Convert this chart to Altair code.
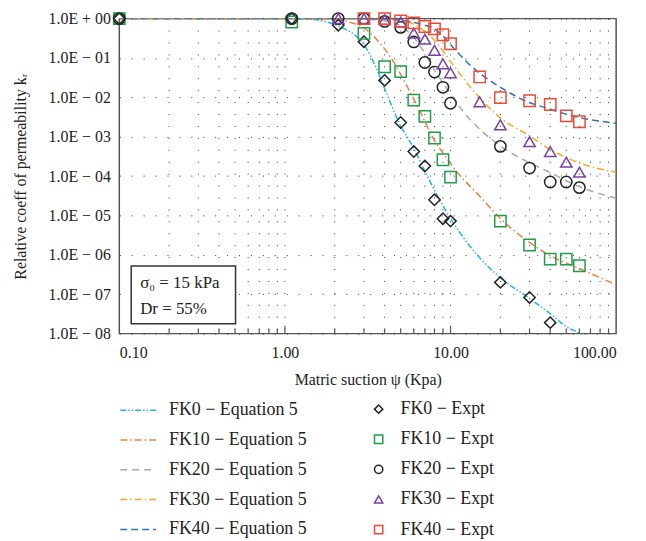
import altair as alt
import pandas as pd

# ---------------- data ----------------
line_labels = ["FK0 − Equation 5", "FK10 − Equation 5", "FK20 − Equation 5",
               "FK30 − Equation 5", "FK40 − Equation 5"]
point_labels = ["FK0 − Expt", "FK10 − Expt", "FK20 − Expt", "FK30 − Expt", "FK40 − Expt"]

fk0_eq_x = [0.1, 1.0, 1.42, 1.79, 2.21, 2.65, 3.0, 3.5, 4.1, 4.93, 5.95, 6.97, 8.2, 9.85, 12.7, 19.6, 29.8, 39.3, 51.4, 59.3, 70]
fk0_eq_y = [1, 1, 0.96, 0.82, 0.59, 0.38, 0.22, 0.065, 0.013, 0.0021, 0.00054, 0.00014, 3.6e-5, 9.3e-6, 1.96e-6, 2.8e-7, 8e-8, 3.4e-8, 1.4e-8, 1.05e-8, 6e-9]

fk10_eq_x = [0.1, 1.0, 1.8, 2.71, 3.57, 4.5, 5.4, 6.5, 7.8, 9.4, 10.9, 14.9, 19.6, 29.8, 39.3, 59.3, 100]
fk10_eq_y = [1, 1, 0.96, 0.72, 0.30, 0.083, 0.021, 0.0047, 0.00096, 0.0003, 0.00013, 3.2e-5, 9.2e-6, 2.1e-6, 9.9e-7, 4.6e-7, 1.75e-7]

fk20_eq_x = [0.1, 1.0, 2.1, 3.0, 4.0, 5.0, 6.0, 7.0, 8.0, 9.4, 10, 11.8, 14.9, 19.8, 29.8, 39.5, 59.3, 100]
fk20_eq_y = [1, 1, 1, 0.97, 0.88, 0.65, 0.33, 0.13, 0.05, 0.0177, 0.012, 0.0046, 0.0016, 0.0006, 0.00022, 0.000126, 5.5e-5, 2.75e-5]

fk30_eq_x = [0.1, 1.0, 2.1, 3.0, 4.0, 5.0, 6.0, 7.0, 8.0, 9.0, 10.3, 14.9, 19.8, 29.8, 39.5, 59.3, 100]
fk30_eq_y = [1, 1, 1, 1, 0.97, 0.9, 0.72, 0.47, 0.28, 0.15, 0.069, 0.01, 0.0031, 0.00107, 0.00049, 0.00022, 0.000125]

fk40_eq_x = [0.1, 1.0, 2.1, 3.0, 4.0, 5.0, 6.0, 7.0, 7.8, 9.0, 10, 12.4, 14.9, 18.7, 23.6, 29.8, 37.4, 47.2, 59.3, 74.6, 100]
fk40_eq_y = [1, 1, 1, 1, 0.98, 0.9, 0.8, 0.68, 0.58, 0.36, 0.22, 0.083, 0.042, 0.0215, 0.012, 0.0074, 0.0055, 0.004, 0.0031, 0.0026, 0.0022]

fk0_ex_x = [0.1, 1.1, 2.1, 3, 4, 5, 6, 7, 8, 9, 10, 20, 30, 40]
fk0_ex_y = [1, 1, 0.68, 0.26, 0.027, 0.0023, 0.00042, 0.00018, 2.5e-5, 8.3e-6, 7.2e-6, 2.0e-7, 8.3e-8, 1.9e-8]

fk10_ex_x = [0.1, 1.1, 3, 4, 5, 6, 7, 8, 9, 10, 20, 30, 40, 50, 60]
fk10_ex_y = [1, 0.82, 0.42, 0.06, 0.045, 0.0085, 0.0033, 0.00093, 0.00026, 9.4e-5, 7.2e-6, 1.78e-6, 7.8e-7, 7.8e-7, 5.3e-7]

fk20_ex_x = [0.1, 1.1, 2.1, 3, 4, 5, 6, 7, 8, 9, 10, 20, 30, 40, 50, 60]
fk20_ex_y = [1, 1, 1, 1, 0.85, 0.6, 0.256, 0.077, 0.044, 0.018, 0.0071, 0.00057, 0.00016, 7.1e-5, 7.1e-5, 5.1e-5]

fk30_ex_x = [2.1, 3, 4, 5, 6, 7, 8, 9, 10, 15, 20, 30, 40, 50, 60]
fk30_ex_y = [1, 1, 0.94, 0.82, 0.43, 0.30, 0.156, 0.071, 0.042, 0.0077, 0.0020, 0.00075, 0.00042, 0.000226, 0.000126]

fk40_ex_x = [3, 4, 5, 6, 7, 8, 9, 10, 15, 20, 30, 40, 50, 60]
fk40_ex_y = [1, 1, 0.87, 0.78, 0.63, 0.55, 0.39, 0.23, 0.033, 0.0099, 0.0082, 0.0066, 0.0034, 0.0024]

x_major = [0.1, 1, 10, 100]
x_minor = [0.2, 0.3, 0.4, 0.5, 0.6, 0.7, 0.8, 0.9, 2, 3, 4, 5, 6, 7, 8, 9, 20, 30, 40, 50, 60, 70, 80, 90]
x_inner_major = [1, 10]
y_major = [1e-8, 1e-7, 1e-6, 1e-5, 1e-4, 1e-3, 1e-2, 1e-1, 1]

# ---------------- styles ----------------
line_colors = ["#25b4ea", "#ef7d42", "#a9a9a9", "#f6a925", "#2e72bf"]
line_dashes = [[6, 2, 1.5, 2, 1.5, 2], [7, 3, 1.5, 3], [7, 5], [7, 3, 1.5, 3], [7, 4]]
point_colors = ["#222222", "#1f9d4a", "#222222", "#7443a3", "#ec4a35"]
point_shapes = ["diamond", "square", "circle", "triangle-up", "square"]

FONT = "Liberation Serif"
W, H = 500, 317

# ---------------- tables ----------------
eq_sets = [(fk0_eq_x, fk0_eq_y), (fk10_eq_x, fk10_eq_y), (fk20_eq_x, fk20_eq_y),
           (fk30_eq_x, fk30_eq_y), (fk40_eq_x, fk40_eq_y)]
ex_sets = [(fk0_ex_x, fk0_ex_y), (fk10_ex_x, fk10_ex_y), (fk20_ex_x, fk20_ex_y),
           (fk30_ex_x, fk30_ex_y), (fk40_ex_x, fk40_ex_y)]

rows = []
for i, (xs, ys) in enumerate(eq_sets):
    for j, (a, b) in enumerate(zip(xs, ys)):
        rows.append({"series": line_labels[i], "x": a, "y": b, "order": j})
eq_df = pd.DataFrame(rows)

rows = []
for i, (xs, ys) in enumerate(ex_sets):
    for a, b in zip(xs, ys):
        rows.append({"series": point_labels[i], "x": a, "y": b})
ex_df = pd.DataFrame(rows)

minor_df = pd.DataFrame({"x": x_minor})
inner_major_df = pd.DataFrame({"x": x_inner_major})
grid_df = pd.DataFrame({"x": x_minor + x_inner_major})

xscale = alt.Scale(type="log", domain=[0.1, 100])
yscale = alt.Scale(type="log", domain=[1e-8, 1])

y_label_expr = ("'1.0E ' + (round(log(datum.value)/LN10) >= 0 ? '+ ' : '− ') + "
                "(abs(round(log(datum.value)/LN10)) < 10 ? '0' : '') + abs(round(log(datum.value)/LN10))")

line_legend = alt.Legend(orient="none", legendX=0, legendY=375, direction="vertical",
                         symbolType="stroke", symbolSize=1300, symbolStrokeWidth=1.5,
                         rowPadding=2, labelOffset=12, padding=0, labelFontSize=18)
point_legend = alt.Legend(orient="none", legendX=252, legendY=384, direction="vertical",
                          symbolSize=70, symbolStrokeWidth=1.5,
                          rowPadding=12.3, labelOffset=13, padding=0, labelFontSize=18)

# ---------------- layers ----------------
vgrid = alt.Chart(grid_df).mark_rule(color="#333333", strokeWidth=1, strokeDash=[1, 11]).encode(
    x=alt.X("x:Q", scale=xscale,
            axis=alt.Axis(values=x_major, format=".2f", title="Matric suction ψ (Kpa)",
                          labelPadding=11, titlePadding=11, grid=False)),
    y=alt.value(0), y2=alt.value(H)
)

lines = alt.Chart(eq_df).mark_line(strokeWidth=1.5, clip=True, interpolate="monotone").encode(
    x=alt.X("x:Q", scale=xscale),
    y=alt.Y("y:Q", scale=yscale,
            axis=alt.Axis(values=y_major, labelExpr=y_label_expr,
                          title="Relative coeff of permeability kᵣ",
                          labelPadding=9, titlePadding=20, grid=True,
                          gridDash=[1, 11], gridColor="#333333", gridWidth=1)),
    color=alt.Color("series:N", title=None,
                    scale=alt.Scale(domain=line_labels, range=line_colors),
                    legend=line_legend),
    strokeDash=alt.StrokeDash("series:N", title=None,
                              scale=alt.Scale(domain=line_labels, range=line_dashes),
                              legend=line_legend),
    order="order:Q",
)

points = alt.Chart(ex_df).mark_point(filled=False, strokeWidth=1.5, size=130, opacity=1).encode(
    x=alt.X("x:Q", scale=xscale),
    y=alt.Y("y:Q", scale=yscale),
    stroke=alt.Stroke("series:N", title=None,
                      scale=alt.Scale(domain=point_labels, range=point_colors),
                      legend=point_legend),
    shape=alt.Shape("series:N", title=None,
                    scale=alt.Scale(domain=point_labels, range=point_shapes),
                    legend=point_legend),
)

minor_ticks = alt.Chart(minor_df).mark_rule(color="#555555", strokeWidth=1.2).encode(
    x=alt.X("x:Q", scale=xscale), y=alt.value(H), y2=alt.value(H - 5)
)
major_ticks = alt.Chart(inner_major_df).mark_rule(color="#555555", strokeWidth=1.2).encode(
    x=alt.X("x:Q", scale=xscale), y=alt.value(H), y2=alt.value(H - 8)
)

note_df = pd.DataFrame({"k": [0]})
box = alt.Chart(note_df).mark_rect(fill="white", stroke="#333333", strokeWidth=1.5).encode(
    x=alt.value(12), x2=alt.value(117), y=alt.value(249), y2=alt.value(307)
)
t1 = alt.Chart(note_df).mark_text(text="σ₀ = 15 kPa", align="left", baseline="middle",
                                  font=FONT, fontSize=17, color="#222222").encode(
    x=alt.value(21), y=alt.value(266)
)
t2 = alt.Chart(note_df).mark_text(text="Dr = 55%", align="left", baseline="middle",
                                  font=FONT, fontSize=17, color="#222222").encode(
    x=alt.value(21), y=alt.value(292)
)

chart = alt.layer(vgrid, lines, points, minor_ticks, major_ticks, box, t1, t2).properties(
    width=W, height=H,
    autosize=alt.AutoSizeParams(type="none"),
    padding={"left": 112, "top": 9, "right": 22, "bottom": 207},
).configure_view(
    stroke="#555555", strokeWidth=1.5
).configure_axis(
    labelFont=FONT, titleFont=FONT, labelFontSize=16, titleFontSize=16,
    labelColor="#222222", titleColor="#222222", titleFontWeight="normal",
    domain=False, ticks=False
).configure_legend(
    labelFont=FONT, labelFontSize=18, labelColor="#222222"
)

chart.save("out.html", embed_options={"renderer": "svg", "actions": False})
